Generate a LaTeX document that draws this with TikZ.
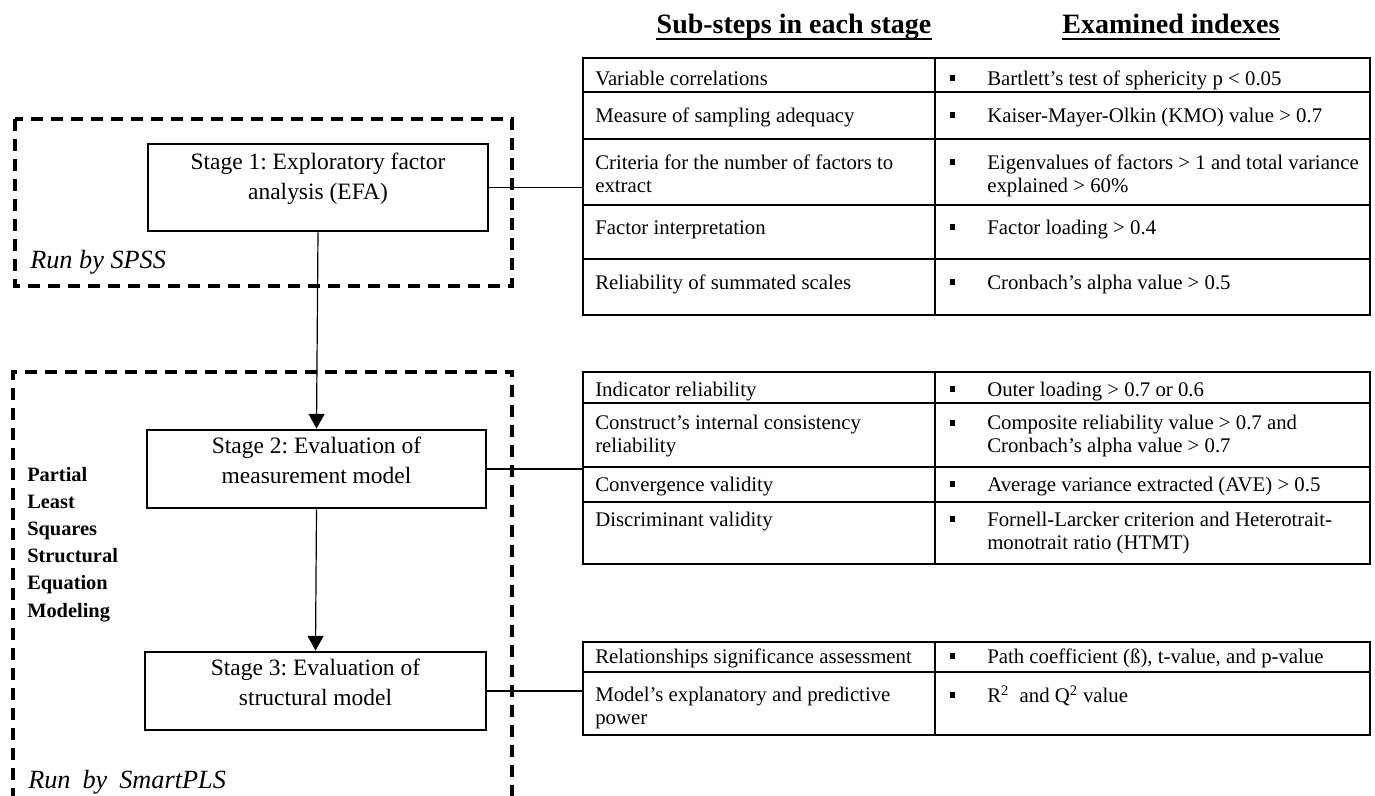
\documentclass[tikz,border=0pt]{standalone}
\usepackage{fontspec}
\setmainfont{Liberation Serif}
\usetikzlibrary{arrows.meta,fit}
\frenchspacing
\begin{document}
\begin{tikzpicture}[x=0.75pt,y=-0.75pt,
  stagebox/.style={draw, line width=2.2pt, inner sep=0pt, align=center, font=\fontsize{17.6}{22.5}\selectfont},
  dashbox/.style={draw, line width=2.4pt, dash pattern=on 9pt off 6pt},
  tabframe/.style={draw, line width=1.3pt, inner sep=0pt},
  tabline/.style={line width=0.8pt},
  conn/.style={line width=1.4pt},
  flow/.style={line width=0.9pt, -{Triangle[length=11pt,width=12pt]}},
  cell/.style={anchor=base west, inner sep=0pt, align=left, font=\fontsize{15.6}{17.25}\selectfont},
  hdr/.style={anchor=base, inner sep=0pt, font=\fontsize{21}{24}\selectfont\bfseries},
  side/.style={anchor=base west, inner sep=0pt, font=\fontsize{15.3}{18}\selectfont\bfseries},
  runby/.style={anchor=base west, inner sep=0pt, font=\fontsize{19.7}{24}\selectfont\itshape},
  bulletsq/.style={fill=black, inner sep=0pt, minimum width=3.75pt, minimum height=4.5pt},
  uline/.style={line width=2pt}
]
\useasboundingbox (0,0) rectangle (1375,796);

% headers
\node[hdr] (h1) at (794,33) {Sub-steps in each stage};
\node[hdr] (h2) at (1171,33) {Examined indexes};
\draw[uline] ([yshift=-4.5pt]h1.base west) -- ([yshift=-4.5pt]h1.base east);
\draw[uline] ([yshift=-4.5pt]h2.base west) -- ([yshift=-4.5pt]h2.base east);

% dashed groups
\draw[dashbox] (15,119) rectangle (512,286);
\draw[dashbox] (13,800) -- (13,372) -- (512,372) -- (512,800);

% stage boxes
\node[stagebox, fit={(148,144) (488,231)}] (s1) {Stage 1: Exploratory factor\\analysis (EFA)};
\node[stagebox, fit={(147,430) (486,508)}] (s2) {Stage 2: Evaluation of\\measurement model};
\node[stagebox, fit={(145,652) (486,730)}] (s3) {Stage 3: Evaluation of\\structural model};

\draw[flow] (s1.south) -- (s2.north);
\draw[flow] (s2.south) -- (s3.north);

% side labels
\node[runby] (r1) at (30,268) {Run by SPSS};
\node[runby] (r2) at (28,788) {Run\hspace{9pt}by\hspace{9pt}SmartPLS};
\node[side] (p1) at (27,481) {Partial};
\node[side] (p2) at (27,508) {Least};
\node[side] (p3) at (27,535) {Squares};
\node[side] (p4) at (27,562) {Structural};
\node[side] (p5) at (27,589) {Equation};
\node[side] (p6) at (27,617) {Modeling};

% table 1
\node[tabframe, fit={(583,58) (1370,315)}] (t1) {};
\draw[tabline] (935,58) -- (935,315);
\foreach \yy in {92,139,205,259} \draw[tabline] (583,\yy) -- (1370,\yy);
\node[cell] (a1) at (595,85) {Variable correlations};
\node[cell] (a2) at (595,122) {Measure of sampling adequacy};
\node[cell] (a3) at (595,192) {Criteria for the number of factors to\\extract};
\node[cell] (a4) at (595,234) {Factor interpretation};
\node[cell] (a5) at (595,289) {Reliability of summated scales};
\node[cell] (e1) at (987,85) {Bartlett’s test of sphericity p < 0.05};
\node[cell] (e2) at (987,122) {Kaiser-Mayer-Olkin (KMO) value > 0.7};
\node[cell] (e3) at (987,192) {Eigenvalues of factors > 1 and total variance\\explained > 60\%};
\node[cell] (e4) at (987,234) {Factor loading > 0.4};
\node[cell] (e5) at (987,289) {Cronbach’s alpha value > 0.5};
\foreach \yy/\nm in {85/q1,122/q2,169/q3,234/q4,289/q5} \node[bulletsq] (\nm) at (952,\yy-7) {};

% table 2
\node[tabframe, fit={(583,372) (1370,564)}] (t2) {};
\draw[tabline] (935,372) -- (935,564);
\foreach \yy in {403,467,502} \draw[tabline] (583,\yy) -- (1370,\yy);
\node[cell] (b1) at (595,396) {Indicator reliability};
\node[cell] (b2) at (595,452) {Construct’s internal consistency\\reliability};
\node[cell] (b3) at (595,491) {Convergence validity};
\node[cell] (b4) at (595,526) {Discriminant validity};
\node[cell] (f1) at (987,396) {Outer loading > 0.7 or 0.6};
\node[cell] (f2) at (987,452) {Composite reliability value > 0.7 and\\Cronbach’s alpha value > 0.7};
\node[cell] (f3) at (987,491) {Average variance extracted (AVE) > 0.5};
\node[cell] (f4) at (987,549) {Fornell-Larcker criterion and Heterotrait-\\monotrait ratio (HTMT)};
\foreach \yy/\nm in {396/w1,430/w2,491/w3,526/w4} \node[bulletsq] (\nm) at (952,\yy-7) {};

% table 3
\node[tabframe, fit={(583,642) (1370,735)}] (t3) {};
\draw[tabline] (935,642) -- (935,735);
\draw[tabline] (583,672) -- (1370,672);
\node[cell] (c1) at (595,663) {Relationships significance assessment};
\node[cell] (c2) at (595,724) {Model’s explanatory and predictive\\power};
\node[cell] (g1) at (987,663) {Path coefficient (ß), t-value, and p-value};
\node[cell] (g2) at (987,702) {R\textsuperscript{2}\hspace{4pt} and Q\textsuperscript{2} value};
\foreach \yy/\nm in {663/v1,702/v2} \node[bulletsq] (\nm) at (952,\yy-7) {};

% connectors
\draw[conn] (s1.east) -- (s1.east -| t1.west);
\draw[conn] (s2.east) -- (s2.east -| t2.west);
\draw[conn] (s3.east) -- (s3.east -| t3.west);
\end{tikzpicture}
\end{document}
